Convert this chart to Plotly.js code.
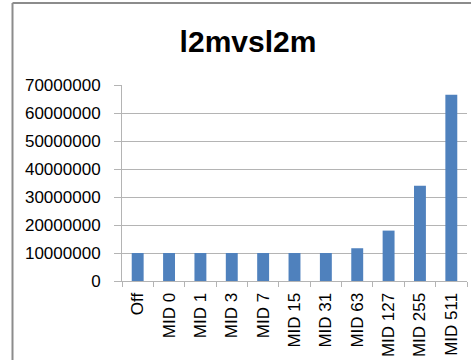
<!DOCTYPE html>
<html>
<head>
<meta charset="utf-8">
<script src="https://cdn.plot.ly/plotly-3.0.1.min.js"></script>
<style>
  html, body { margin: 0; padding: 0; background: #fff; }
  #chart { width: 471px; height: 360px; }
</style>
</head>
<body>
<div id="chart"></div>
<script>
// Categories along the x axis
const categories = ["Off", "MID 0", "MID 1", "MID 3", "MID 7", "MID 15", "MID 31", "MID 63", "MID 127", "MID 255", "MID 511"];
// Measured values per setting
const values = [10000000, 10000000, 10000000, 10000000, 10000000, 10000000, 10000000, 11700000, 18000000, 34000000, 66500000];
// Y axis ticks
const yTicks = [0, 10000000, 20000000, 30000000, 40000000, 50000000, 60000000, 70000000];

const FONT = "Liberation Sans, Arial, sans-serif";
const GRID = "#b4b4b4";

const trace = {
  type: "bar",
  x: categories,
  y: values,
  marker: { color: "#4f81bd" },
  hoverinfo: "x+y"
};

const ml = 122, mr = 4, mt = 85, mb = 79;
const pw = 471 - ml - mr, ph = 360 - mt - mb;
const px = v => (v - ml) / pw;
const py = v => (360 - mb - v) / ph;

const layout = {
  width: 471,
  height: 360,
  margin: { l: ml, r: mr, t: mt, b: mb, pad: 0 },
  paper_bgcolor: "#ffffff",
  plot_bgcolor: "#ffffff",
  showlegend: false,
  bargap: 0.62,
  font: { family: FONT, size: 17, color: "#000" },
  title: {
    text: "<b>l2mvsl2m</b>",
    font: { family: FONT, size: 30, color: "#000" },
    xref: "container",
    x: 248 / 471,
    xanchor: "center",
    yref: "container",
    y: 1 - 41 / 360,
    yanchor: "middle"
  },
  xaxis: {
    type: "category",
    tickangle: -90,
    ticks: "outside",
    tickson: "boundaries",
    ticklen: 5,
    tickcolor: GRID,
    showline: true,
    linecolor: GRID,
    linewidth: 1,
    showgrid: false,
    zeroline: false,
    ticklabelstandoff: 4,
    tickfont: { family: FONT, size: 17, color: "#000" }
  },
  yaxis: {
    range: [0, 70000000],
    tickvals: yTicks,
    tickformat: "d",
    ticks: "outside",
    ticklen: 7,
    tickcolor: GRID,
    showline: true,
    linecolor: GRID,
    showgrid: true,
    gridcolor: GRID,
    gridwidth: 1,
    zeroline: false,
    ticklabelstandoff: 10,
    tickfont: { family: FONT, size: 17, color: "#000" }
  },
  shapes: [
    // outer frame: left and top edges
    { type: "line", xref: "paper", yref: "paper", x0: px(12.5), x1: px(12.5), y0: py(3), y1: py(400),
      line: { color: "#8c8c8c", width: 2 } },
    { type: "line", xref: "paper", yref: "paper", x0: px(12.5), x1: px(480), y0: py(3), y1: py(3),
      line: { color: "#8c8c8c", width: 2 } }
  ]
};

Plotly.newPlot("chart", [trace], layout, { displayModeBar: false, staticPlot: true });
</script>
</body>
</html>
